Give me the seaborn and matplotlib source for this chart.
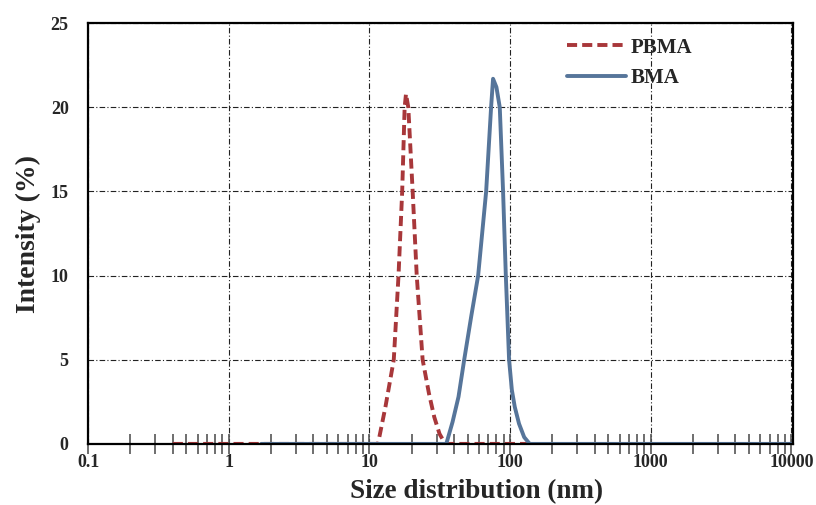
import numpy as np
import pandas as pd
import seaborn as sns
import matplotlib.pyplot as plt
from matplotlib.ticker import LogLocator, FixedLocator, NullFormatter

# ---- data ----
pbma_size = [0.4, 1.7, 11.5, 13.0, 14.9, 16.1, 17.1, 17.8, 18.2, 18.9, 20.3, 21.7, 23.9, 26.5, 28.9, 31.5, 34.6, 60.0, 140.0]
pbma_int = [0.0, 0.0, 0.0, 2.2, 5.0, 10.0, 15.0, 20.0, 20.8, 20.0, 15.0, 10.0, 5.0, 3.0, 1.6, 0.6, 0.0, 0.0, 0.0]

bma_size = [1.7, 10.0, 35.2, 39.0, 43.0, 47.2, 53.0, 59.3, 67.6, 73.3, 75.7, 80.0, 84.5, 89.2, 93.3, 98.4, 103.0, 108.0, 115.8, 126.0, 138.0, 1000.0, 10000.0]
bma_int = [0.0, 0.0, 0.0, 1.3, 2.8, 5.0, 7.6, 10.0, 15.0, 20.0, 21.7, 21.2, 20.0, 15.0, 10.0, 5.0, 3.2, 2.2, 1.2, 0.4, 0.0, 0.0, 0.0]

y_ticks = [0, 5, 10, 15, 20, 25]
x_ticks = [0.1, 1, 10, 100, 1000, 10000]
x_labels = ["0.1", "1", "10", "100", "1000", "10000"]

df = pd.concat([
    pd.DataFrame({"size": pbma_size, "intensity": pbma_int, "sample": "PBMA"}),
    pd.DataFrame({"size": bma_size, "intensity": bma_int, "sample": "BMA"}),
], ignore_index=True)

sns.set_style("white")
plt.rcParams["font.family"] = ["Liberation Serif", "DejaVu Serif"]
plt.rcParams["font.weight"] = "bold"

fig = plt.figure(figsize=(8.16, 5.05), dpi=100)
ax = fig.add_axes([0.108, 0.121, 0.864, 0.833])

sns.lineplot(data=df, x="size", y="intensity", hue="sample", style="sample",
             palette={"PBMA": "#a8373a", "BMA": "#56759a"},
             dashes={"PBMA": (2.6, 1.3), "BMA": ""}, linewidth=2.8,
             sort=False, estimator=None, ax=ax)

ax.set_xscale("log")
ax.set_xlim(0.1, 10300)
ax.set_ylim(0, 25)

ax.xaxis.set_major_locator(FixedLocator(x_ticks))
ax.set_xticklabels(x_labels)
ax.xaxis.set_minor_locator(LogLocator(base=10, subs=np.arange(2, 10)))
ax.xaxis.set_minor_formatter(NullFormatter())
ax.set_yticks(y_ticks)

ax.tick_params(axis="x", which="both", bottom=True, direction="inout", length=14, width=1.2,
               color="#555555", labelsize=13, pad=0)
ax.tick_params(axis="y", left=False, length=0, labelsize=13, pad=14)
for lab in ax.get_xticklabels() + ax.get_yticklabels():
    lab.set_fontweight("bold")

ax.grid(True, which="major", color="#222222", linestyle=(0, (5, 2, 1, 2)), linewidth=0.8)
ax.grid(False, which="minor")
for s in ax.spines.values():
    s.set_color("black")
    s.set_linewidth(1.6)

ax.set_xlabel("Size distribution (nm)", fontsize=19.5, fontweight="bold")
ax.xaxis.set_label_coords(0.551, -0.083)
ax.set_ylabel("Intensity (%)", fontsize=20, fontweight="bold")
ax.yaxis.set_label_coords(-0.067, 0.5)

leg = ax.legend(loc="upper left", bbox_to_anchor=(0.653, 1.01), frameon=False,
                handlelength=2.8, handletextpad=0.25, labelspacing=0.5,
                prop={"weight": "bold", "size": 15})
leg.set_title(None)

fig.savefig("out.png", dpi=100)
